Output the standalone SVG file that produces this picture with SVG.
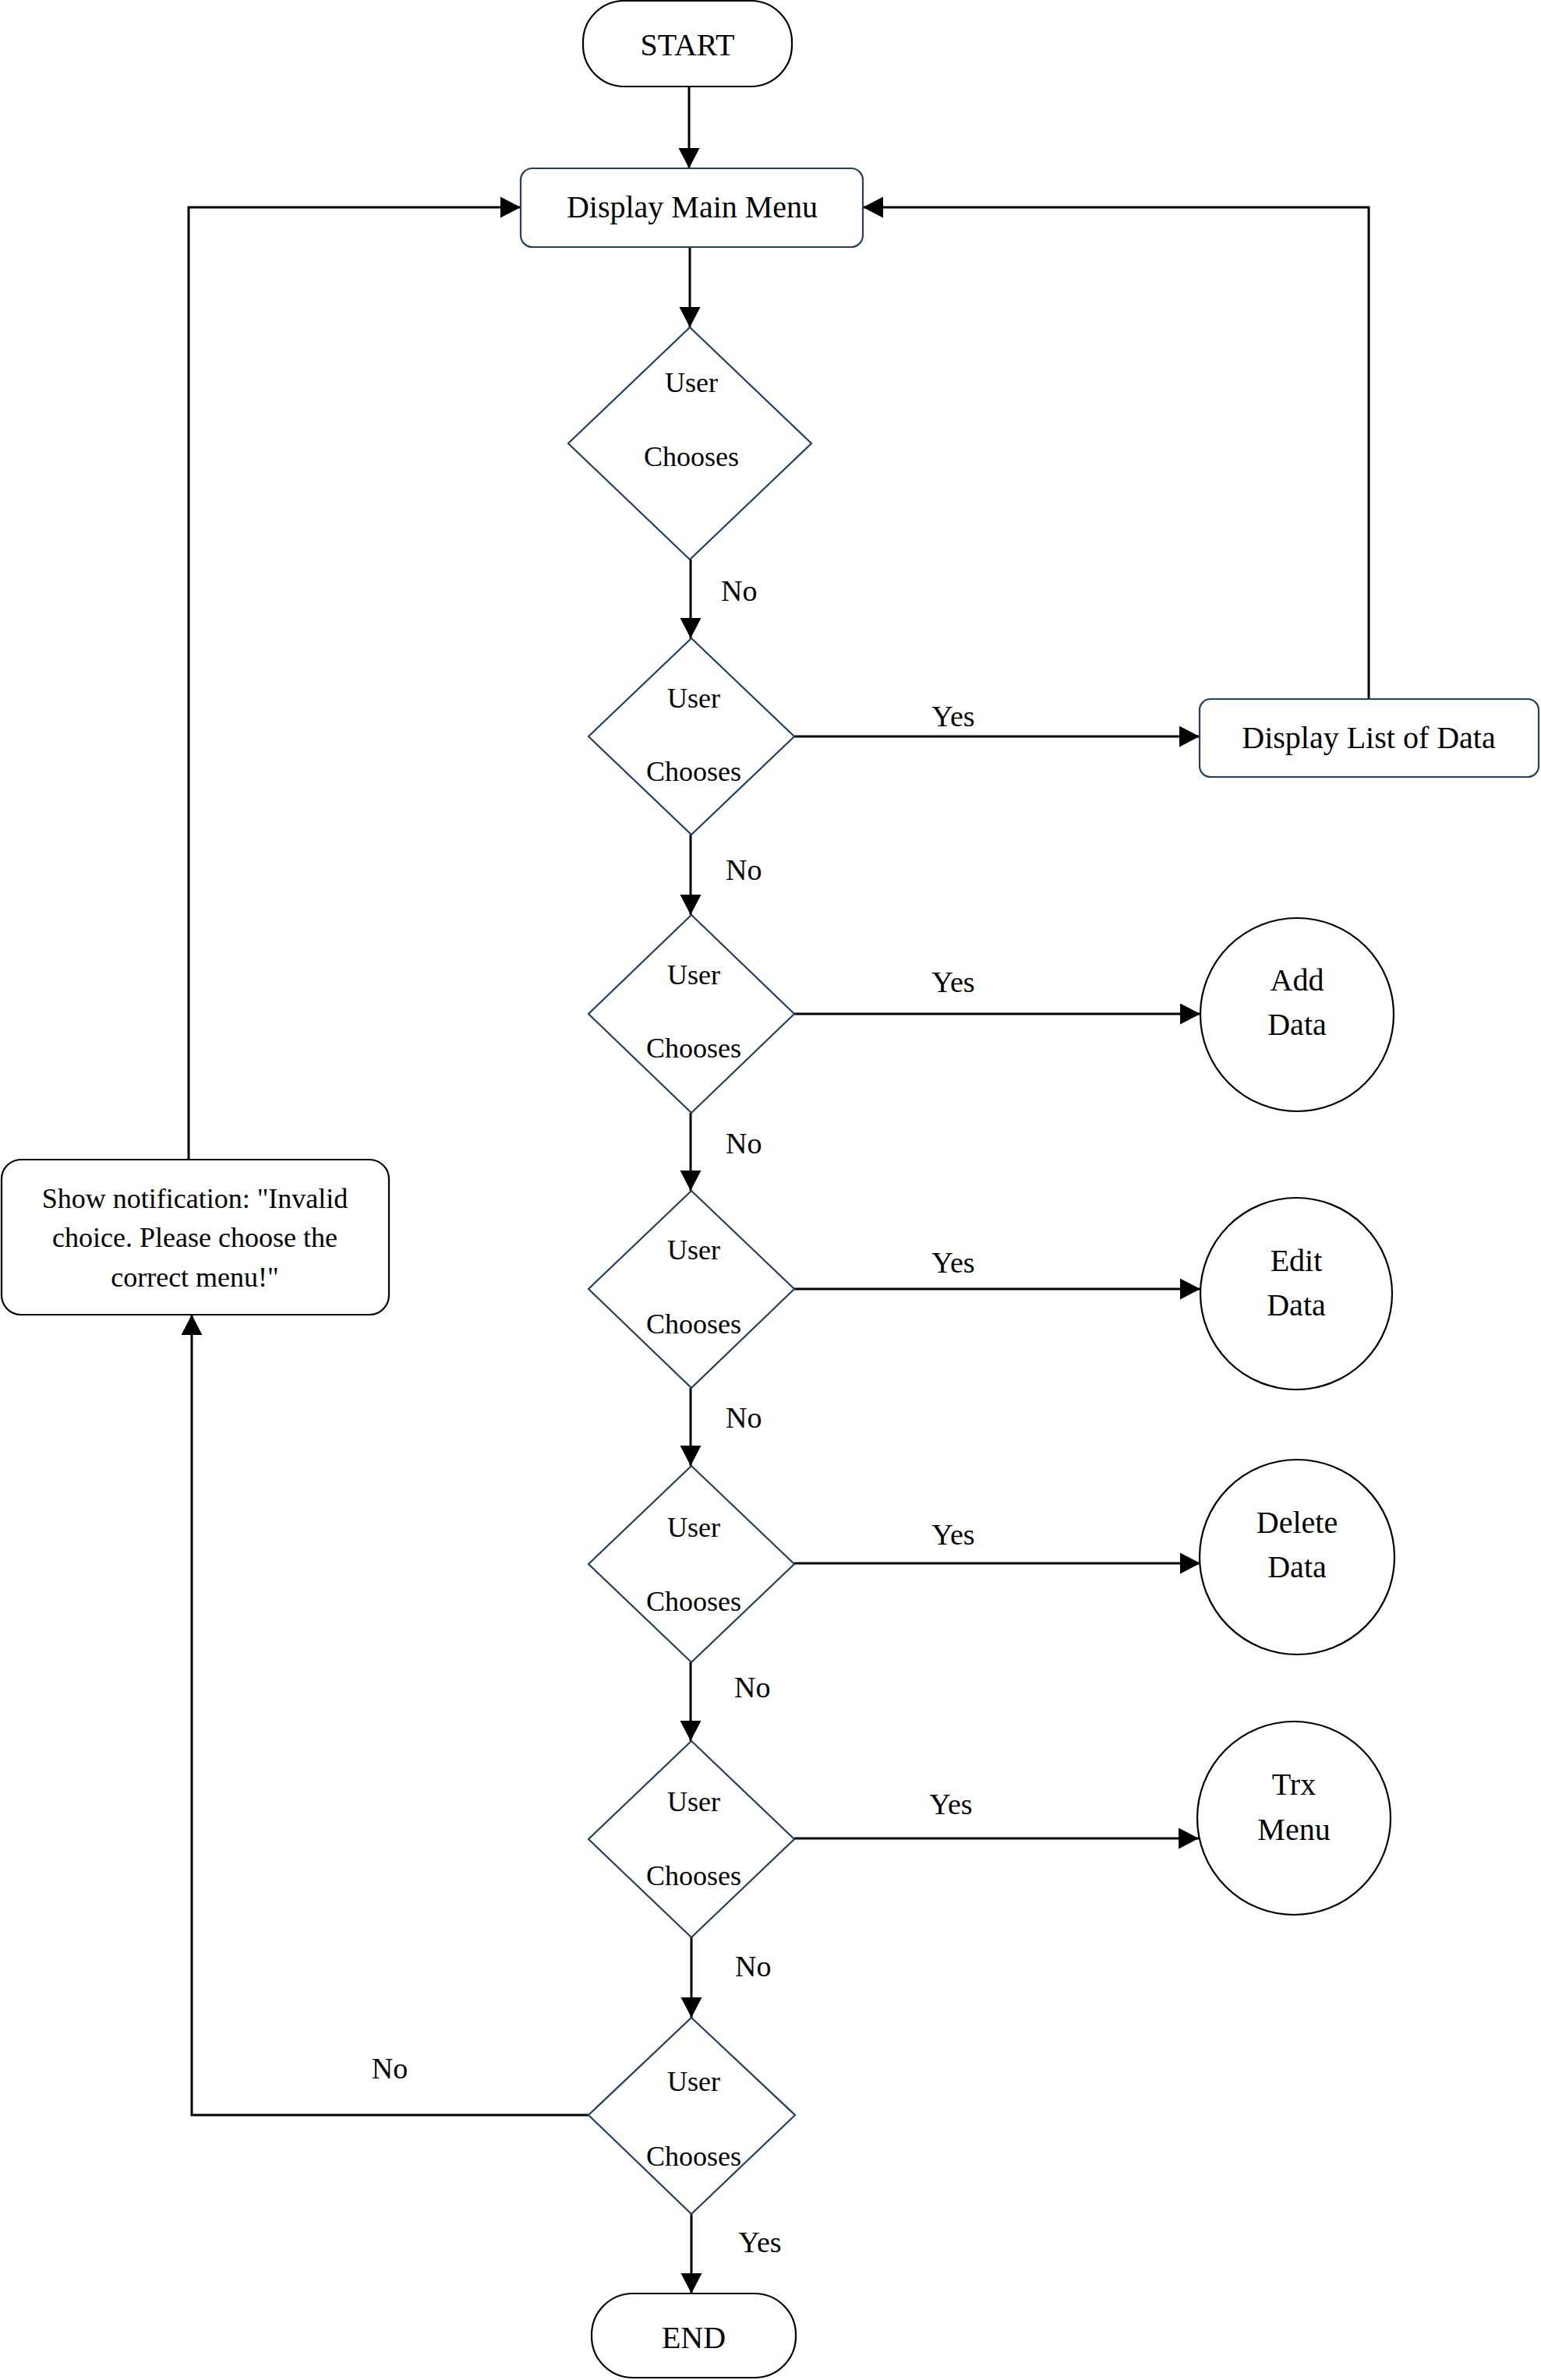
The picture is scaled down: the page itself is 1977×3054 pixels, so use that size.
<svg xmlns="http://www.w3.org/2000/svg" width="1977" height="3054" viewBox="0 0 1977 3054">
<defs>
<style>
text{font-family:"Liberation Serif","Times New Roman",serif;fill:#000;}
.t40{font-size:40px;text-anchor:middle;}
.t36{font-size:36px;text-anchor:middle;}
.lbl{font-size:38px;}
.mid{text-anchor:middle;}
.blue{fill:#fff;stroke:#24405F;stroke-width:2.2;}
.blk{fill:#fff;stroke:#000;stroke-width:2.2;}
.conn{fill:none;stroke:#000;stroke-width:3;}
</style>
<marker id="arr" markerUnits="userSpaceOnUse" markerWidth="27" markerHeight="28" refX="26" refY="13.5" orient="auto">
<path d="M0,0 L26,13.5 L0,27 z" fill="#000"/>
</marker>
</defs>
<rect width="1977" height="3054" fill="#fff"/>

<g id="connectors">
<path class="conn" d="M884,111 V216" marker-end="url(#arr)"/>
<path class="conn" d="M885,317 V420" marker-end="url(#arr)"/>
<path class="conn" d="M886,718 V819" marker-end="url(#arr)"/>
<path class="conn" d="M1019,945 H1539" marker-end="url(#arr)"/>
<path class="conn" d="M1756,897 V266 H1107" marker-end="url(#arr)"/>
<path class="conn" d="M886,1071 V1174" marker-end="url(#arr)"/>
<path class="conn" d="M1019,1301 H1540" marker-end="url(#arr)"/>
<path class="conn" d="M886,1428 V1528" marker-end="url(#arr)"/>
<path class="conn" d="M1019,1654 H1540" marker-end="url(#arr)"/>
<path class="conn" d="M886,1781 V1881" marker-end="url(#arr)"/>
<path class="conn" d="M1019,2006 H1540" marker-end="url(#arr)"/>
<path class="conn" d="M886,2133 V2234" marker-end="url(#arr)"/>
<path class="conn" d="M1019,2359 H1538" marker-end="url(#arr)"/>
<path class="conn" d="M887,2486 V2589" marker-end="url(#arr)"/>
<path class="conn" d="M887,2841 V2943" marker-end="url(#arr)"/>
<path class="conn" d="M755,2714 H246 V1687" marker-end="url(#arr)"/>
<path class="conn" d="M242,1488 V266 H668" marker-end="url(#arr)"/>
<text class="lbl" x="925" y="771">No</text>
<text class="lbl mid" x="1223" y="932">Yes</text>
<text class="lbl" x="931" y="1129">No</text>
<text class="lbl mid" x="1223" y="1273">Yes</text>
<text class="lbl" x="931" y="1480">No</text>
<text class="lbl mid" x="1223" y="1633">Yes</text>
<text class="lbl" x="931" y="1832">No</text>
<text class="lbl mid" x="1223" y="1982">Yes</text>
<text class="lbl" x="942" y="2178">No</text>
<text class="lbl mid" x="1220" y="2328">Yes</text>
<text class="lbl" x="943" y="2536">No</text>
<text class="lbl mid" x="500" y="2667">No</text>
<text class="lbl mid" x="975" y="2890">Yes</text>
</g>

<g id="start">
<rect class="blk" x="748" y="1" width="268" height="110" rx="53"/>
<text class="t40" x="882" y="71">START</text>
</g>

<g id="main-menu">
<rect class="blue" x="668" y="216" width="439" height="101" rx="15"/>
<text class="t40" x="888" y="279">Display Main Menu</text>
</g>

<g id="decision-1">
<polygon class="blue" points="885,420 1041,569 885,718 729,569"/>
<text class="t36" x="887" y="503">User</text>
<text class="t36" x="887" y="598">Chooses</text>
</g>

<g id="decision-2">
<polygon class="blue" points="887,819 1019,945 887,1071 755,945"/>
<text class="t36" x="890" y="908">User</text>
<text class="t36" x="890" y="1002">Chooses</text>
</g>

<g id="display-list">
<rect class="blue" x="1539" y="897" width="435" height="100" rx="14"/>
<text class="t40" x="1756" y="960">Display List of Data</text>
</g>

<g id="decision-3">
<polygon class="blue" points="887,1174 1019,1301 887,1428 755,1301"/>
<text class="t36" x="890" y="1263">User</text>
<text class="t36" x="890" y="1357">Chooses</text>
</g>

<g id="add-data">
<circle class="blk" cx="1664" cy="1302" r="124"/>
<text class="t40" x="1664" y="1271">Add</text>
<text class="t40" x="1664" y="1328">Data</text>
</g>

<g id="decision-4">
<polygon class="blue" points="887,1528 1019,1654 887,1781 755,1654"/>
<text class="t36" x="890" y="1616">User</text>
<text class="t36" x="890" y="1711">Chooses</text>
</g>

<g id="edit-data">
<circle class="blk" cx="1663" cy="1660" r="123"/>
<text class="t40" x="1663" y="1631">Edit</text>
<text class="t40" x="1663" y="1688">Data</text>
</g>

<g id="decision-5">
<polygon class="blue" points="887,1881 1019,2007 887,2133 755,2007"/>
<text class="t36" x="890" y="1972">User</text>
<text class="t36" x="890" y="2067">Chooses</text>
</g>

<g id="delete-data">
<circle class="blk" cx="1664" cy="1998" r="125"/>
<text class="t40" x="1664" y="1967">Delete</text>
<text class="t40" x="1664" y="2024">Data</text>
</g>

<g id="decision-6">
<polygon class="blue" points="887,2234 1019,2360 887,2486 755,2360"/>
<text class="t36" x="890" y="2324">User</text>
<text class="t36" x="890" y="2419">Chooses</text>
</g>

<g id="trx-menu">
<circle class="blk" cx="1660" cy="2333" r="124"/>
<text class="t40" x="1660" y="2303">Trx</text>
<text class="t40" x="1660" y="2361">Menu</text>
</g>

<g id="decision-7">
<polygon class="blue" points="887,2589 1020,2714 887,2841 755,2714"/>
<text class="t36" x="890" y="2683">User</text>
<text class="t36" x="890" y="2779">Chooses</text>
</g>

<g id="end">
<rect class="blk" x="759" y="2943" width="262" height="108" rx="53"/>
<text class="t40" x="890" y="3013">END</text>
</g>

<g id="notification">
<rect class="blk" x="2" y="1488" width="497" height="199" rx="25"/>
<text class="t36" x="250" y="1550">Show notification: "Invalid</text>
<text class="t36" x="250" y="1600">choice. Please choose the</text>
<text class="t36" x="250" y="1651">correct menu!"</text>
</g>
</svg>
